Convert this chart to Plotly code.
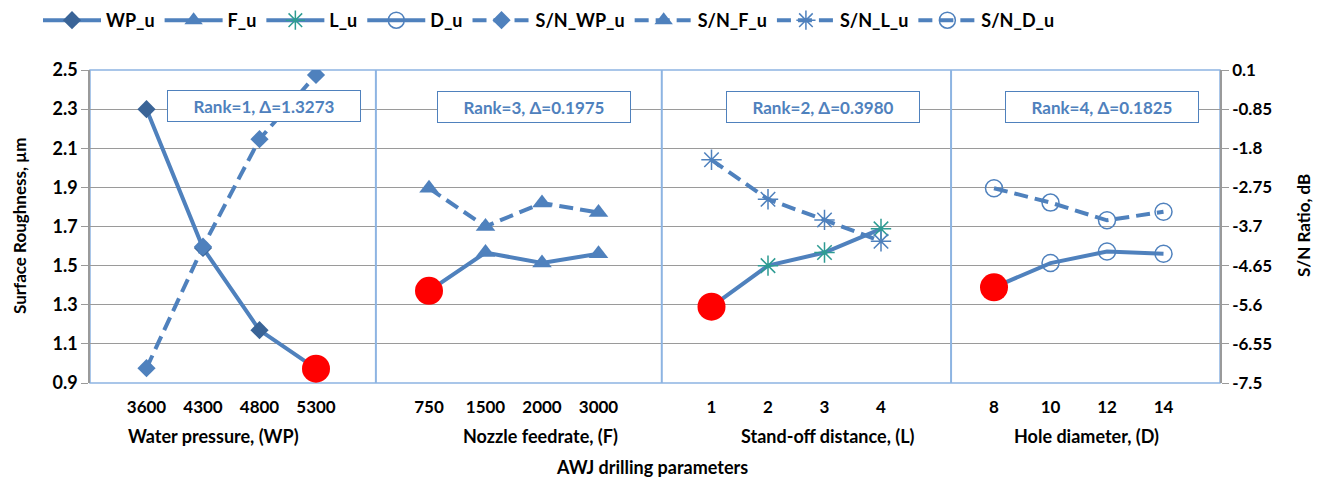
import plotly.graph_objects as go

# Level labels of each AWJ drilling factor
wp_levels = ["3600", "4300", "4800", "5300"]
f_levels = ["750", "1500", "2000", "3000"]
l_levels = ["1", "2", "3", "4"]
d_levels = ["8", "10", "12", "14"]

# Mean surface roughness (µm) per level
wp_u = [2.30, 1.59, 1.17, 0.973]
f_u = [1.371, 1.567, 1.513, 1.561]
l_u = [1.290, 1.500, 1.567, 1.688]
d_u = [1.389, 1.513, 1.572, 1.561]

# Mean S/N ratio (dB) per level
sn_wp_u = [-7.14, -4.19, -1.58, -0.02]
sn_f_u = [-2.77, -3.70, -3.13, -3.36]
sn_l_u = [-2.08, -3.04, -3.54, -4.06]
sn_d_u = [-2.77, -3.12, -3.55, -3.34]

factor_titles = ["Water pressure, (WP)", "Nozzle feedrate, (F)",
                 "Stand-off distance, (L)", "Hole diameter, (D)"]
ranks = [1, 3, 2, 4]
deltas = ["1.3273", "0.1975", "0.3980", "0.1825"]

FONT = "Lato, 'Open Sans', sans-serif"
BLUE = "#4F81BD"
DARK = "#3A6497"
TEAL = "#2E9C93"

W, H = 1320, 484
ML, MR, MT, MB = 90, 100, 70, 101
PW, PH = W - ML - MR, H - MT - MB

levels = [wp_levels, f_levels, l_levels, d_levels]
ra = [wp_u, f_u, l_u, d_u]
sn = [sn_wp_u, sn_f_u, sn_l_u, sn_d_u]
names = ["WP_u", "F_u", "L_u", "D_u"]


def xpos(panel):
    # each factor occupies 5 slots on a shared 0..20 axis
    return [5 * panel + i + 1 for i in range(4)]


def px_to_paper(px, py):
    return (px - ML) / PW, (H - MB - py) / PH


solid_markers = [
    dict(symbol="diamond", size=14, color=DARK),
    dict(symbol="triangle-up", size=17, color=BLUE),
    dict(symbol="asterisk-open", size=17, color=TEAL, line=dict(width=1.5, color=TEAL)),
    dict(symbol="circle-open", size=17, color=BLUE, line=dict(width=1.5, color=BLUE)),
]
dash_markers = [
    dict(symbol="diamond", size=14, color=BLUE),
    dict(symbol="triangle-up", size=17, color=BLUE),
    dict(symbol="asterisk-open", size=17, color=BLUE, line=dict(width=1.5, color=BLUE)),
    dict(symbol="circle-open", size=17, color=BLUE, line=dict(width=1.5, color=BLUE)),
]

fig = go.Figure()

for p in range(4):
    fig.add_trace(go.Scatter(
        x=xpos(p), y=ra[p], name=names[p], mode="lines+markers",
        line=dict(color=BLUE, width=4), marker=solid_markers[p],
        yaxis="y", legendrank=p + 1))

for p in range(4):
    fig.add_trace(go.Scatter(
        x=xpos(p), y=sn[p], name="S/N_" + names[p], mode="lines+markers",
        line=dict(color=BLUE, width=4, dash="14px,7px"), marker=dash_markers[p],
        yaxis="y2", legendrank=p + 5))

# optimal (lowest roughness) level of each factor
opt_x, opt_y = [], []
for p in range(4):
    k = ra[p].index(min(ra[p]))
    opt_x.append(xpos(p)[k])
    opt_y.append(ra[p][k])
fig.add_trace(go.Scatter(
    x=opt_x, y=opt_y, mode="markers", showlegend=False, yaxis="y",
    marker=dict(symbol="circle", size=28, color="#FF0000")))

tickvals, ticktext = [], []
for p in range(4):
    tickvals += xpos(p)
    ticktext += levels[p]

sn_ticks = [round(-7.5 + 0.95 * k, 2) for k in range(9)]


def bold(size, color="black"):
    return dict(family=FONT, size=size, color=color, weight="bold")


annotations = []
box_x = [3.08, 7.86, 12.97, 17.91]
for p in range(4):
    annotations.append(dict(
        x=box_x[p], y=2.318 if p == 0 else 2.31, xref="x", yref="y",
        text=f"Rank={ranks[p]}, Δ={deltas[p]}", showarrow=False,
        font=bold(17, BLUE),
        bgcolor="white", bordercolor=BLUE, borderwidth=1,
        width=186, height=24, borderpad=3))

title_x = [213, 540, 828, 1086]
for p in range(4):
    ax, ay = px_to_paper(title_x[p], 436)
    annotations.append(dict(x=ax, y=ay, xref="paper", yref="paper",
                            xanchor="center", yanchor="middle",
                            text=factor_titles[p], showarrow=False, font=bold(18)))
ax, ay = px_to_paper(652, 467)
annotations.append(dict(x=ax, y=ay, xref="paper", yref="paper",
                        xanchor="center", yanchor="middle",
                        text="AWJ drilling parameters", showarrow=False, font=bold(18)))
ax, ay = px_to_paper(19, 226)
annotations.append(dict(x=ax, y=ay, xref="paper", yref="paper",
                        xanchor="center", yanchor="middle",
                        text="Surface Roughness, µm", showarrow=False, textangle=-90,
                        font=bold(17)))
ax, ay = px_to_paper(1303, 226)
annotations.append(dict(x=ax, y=ay, xref="paper", yref="paper",
                        xanchor="center", yanchor="middle",
                        text="S/N Ratio, dB", showarrow=False, textangle=-90,
                        font=bold(17)))

shapes = [dict(type="rect", xref="paper", yref="paper", x0=0, x1=1, y0=0, y1=1,
               line=dict(color="#8DB4E2", width=1.5), layer="below")]
for d in [5.06, 10.12, 15.24]:
    shapes.append(dict(type="line", xref="x", yref="paper", x0=d, x1=d, y0=0, y1=1,
                       line=dict(color="#8DB4E2", width=2), layer="above"))

fig.update_layout(
    width=W, height=H,
    margin=dict(l=ML, r=MR, t=MT, b=MB),
    paper_bgcolor="white", plot_bgcolor="white",
    font=dict(family=FONT, color="black"),
    xaxis=dict(range=[0, 20], tickmode="array", tickvals=tickvals, ticktext=ticktext,
               ticks="outside", ticklen=9, tickcolor="rgba(0,0,0,0)",
               showgrid=False, zeroline=False, showline=False,
               tickfont=bold(17)),
    yaxis=dict(range=[0.9, 2.5], tickmode="linear", tick0=0.9, dtick=0.2,
               tickformat=".1f", ticks="outside", ticklen=7, tickcolor="#9A9A9A",
               showgrid=True, gridcolor="#9A9A9A", gridwidth=1, zeroline=False,
               showline=True, linecolor="#9A9A9A", linewidth=1.5,
               tickfont=bold(18)),
    yaxis2=dict(range=[-7.5, 0.1], overlaying="y", side="right", anchor="x",
                tickmode="array", tickvals=sn_ticks,
                ticktext=[f"{v:g}" for v in sn_ticks],
                ticks="outside", ticklen=7, tickcolor="#9A9A9A",
                showgrid=False, zeroline=False,
                showline=True, linecolor="#9A9A9A", linewidth=1.5,
                tickfont=bold(17)),
    legend=dict(orientation="h", xref="container", yref="container",
                x=38 / W, y=1 - 2 / H, xanchor="left", yanchor="top",
                font=bold(18), itemwidth=58, tracegroupgap=0,
                bgcolor="rgba(0,0,0,0)"),
    annotations=annotations,
    shapes=shapes,
)

fig.write_html("out.html")
